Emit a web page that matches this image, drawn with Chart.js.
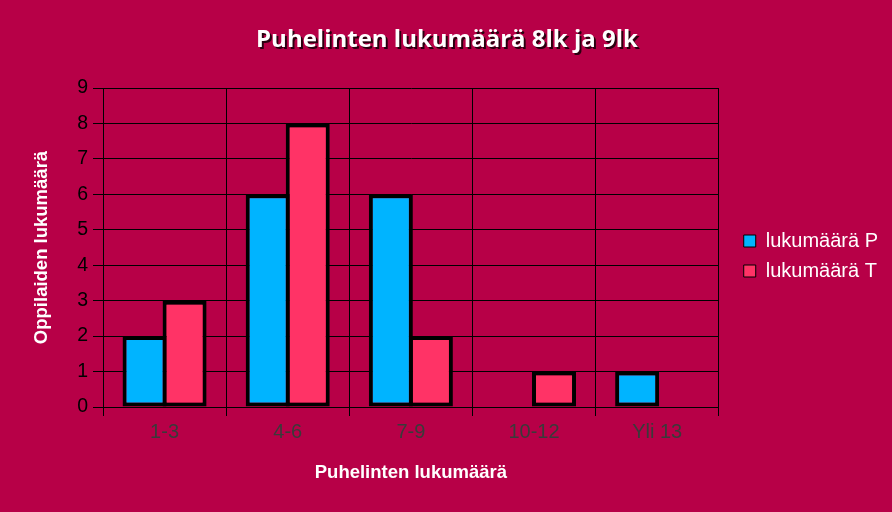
<!DOCTYPE html>
<html>
<head>
<meta charset="utf-8">
<script src="https://cdn.jsdelivr.net/npm/chart.js@4.4.1/dist/chart.umd.min.js"></script>
<style>
  html, body { margin: 0; padding: 0; background: #b70047; }
  canvas { display: block; }
</style>
</head>
<body>
<canvas id="chart" width="892" height="512"></canvas>
<script>
// Data
const chartTitle = 'Puhelinten lukumäärä 8lk ja 9lk';
const categories = ['1-3', '4-6', '7-9', '10-12', 'Yli 13'];
const seriesNames = ['lukumäärä P', 'lukumäärä T'];
const countP = [2, 6, 6, 0, 1];
const countT = [3, 8, 2, 1, 0];
const xAxisTitle = 'Puhelinten lukumäärä';
const yAxisTitle = 'Oppilaiden lukumäärä';
const yMin = 0, yMax = 9, yStep = 1;

const arial = 'Liberation Sans, Arial, sans-serif';

// Title with a dark drop shadow, drawn on top of the chart
const titlePlugin = {
    id: 'shadowTitle',
    afterDraw(chart) {
        const ctx = chart.ctx;
        ctx.save();
        ctx.font = 'bold 24px "Open Sans", sans-serif';
        ctx.textAlign = 'center';
        ctx.textBaseline = 'middle';
        ctx.fillStyle = '#2a0010';
        ctx.fillText(chartTitle, 449, 42);
        ctx.fillStyle = '#ffffff';
        ctx.fillText(chartTitle, 447, 40);
        ctx.restore();
    }
};

// Push the legend a little away from the plot area
const legendNudge = {
    id: 'legendNudge',
    afterLayout(chart) {
        const lg = chart.legend;
        if (!lg) return;
        lg.left += 15; lg.right += 15;
        lg.top -= 44; lg.bottom -= 44;
    }
};

const barStyle = {
    borderColor: '#000000',
    borderWidth: 4,
    borderSkipped: false,
    barPercentage: 1.1,
    categoryPercentage: 0.65
};

new Chart(document.getElementById('chart'), {
    type: 'bar',
    data: {
        labels: categories,
        datasets: [
            Object.assign({ label: seriesNames[0], data: countP, backgroundColor: '#00b4ff' }, barStyle),
            Object.assign({ label: seriesNames[1], data: countT, backgroundColor: '#ff3366' }, barStyle)
        ]
    },
    options: {
        responsive: false,
        animation: false,
        layout: { padding: { top: 88, left: 0, right: 19, bottom: 0 } },
        scales: {
            x: {
                afterFit: s => { s.height = 105; },
                grid: { color: '#000000', lineWidth: 1, tickLength: 9, offset: true },
                border: { color: '#000000', width: 1 },
                ticks: { color: '#3a3a3a', font: { family: arial, size: 20 }, padding: 4, maxRotation: 0 },
                title: {
                    display: true, text: xAxisTitle, color: '#ffffff',
                    font: { family: arial, size: 18.5, weight: 'bold' },
                    padding: { top: 0, bottom: 28 }
                }
            },
            y: {
                min: yMin, max: yMax,
                afterFit: s => { s.width = 103; },
                grid: { color: '#000000', lineWidth: 1, tickLength: 10 },
                border: { color: '#000000', width: 1 },
                ticks: { stepSize: yStep, color: '#000000', font: { family: arial, size: 19.5 }, padding: 5 },
                title: {
                    display: true, text: yAxisTitle, color: '#ffffff',
                    font: { family: arial, size: 18.5, weight: 'bold' },
                    padding: { top: 31, bottom: 0 }
                }
            }
        },
        plugins: {
            title: { display: false },
            tooltip: { enabled: false },
            legend: {
                position: 'right',
                labels: {
                    color: '#ffffff',
                    font: { family: arial, size: 20 },
                    boxWidth: 12,
                    boxHeight: 12,
                    padding: 10,
                    generateLabels(chart) {
                        const items = Chart.defaults.plugins.legend.labels.generateLabels(chart);
                        items.forEach(it => { it.lineWidth = 1; });
                        return items;
                    }
                }
            }
        }
    },
    plugins: [titlePlugin, legendNudge]
});
</script>
</body>
</html>
